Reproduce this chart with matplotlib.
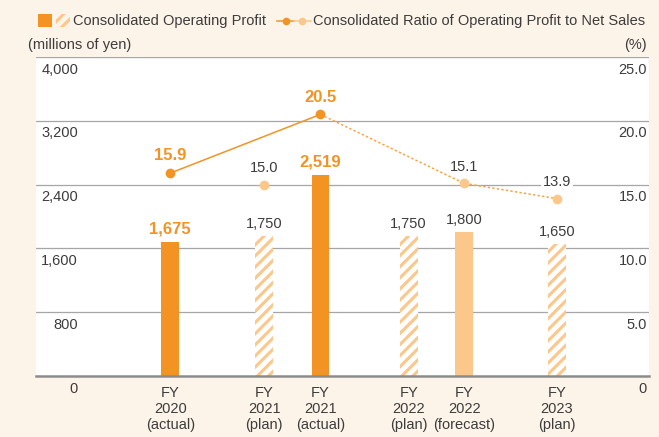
import numpy as np
import matplotlib
matplotlib.use("Agg")
import matplotlib.pyplot as plt
from matplotlib.patches import Rectangle
from matplotlib.lines import Line2D

# data
categories = ["FY\n2020\n(actual)", "FY\n2021\n(plan)", "FY\n2021\n(actual)",
              "FY\n2022\n(plan)", "FY\n2022\n(forecast)", "FY\n2023\n(plan)"]
kind = ["actual", "plan", "actual", "plan", "forecast", "plan"]
profit = [1675, 1750, 2519, 1750, 1800, 1650]
ratio = [15.9, 15.0, 20.5, np.nan, 15.1, 13.9]
left_ticks = [0, 800, 1600, 2400, 3200, 4000]
right_ticks = [0, 5.0, 10.0, 15.0, 20.0, 25.0]

# layout
xpos = np.array([0, 1.0, 1.6, 2.54, 3.13, 4.12])
DARK = "#f39323"
LIGHT = "#fcc78a"
CREAM = "#fdf4e9"
GRID = "#a6a6a6"
TXT = "#3c3c3c"

plt.rcParams["font.family"] = ["Liberation Sans", "DejaVu Sans"]
plt.rcParams["hatch.linewidth"] = 2.2
plt.rcParams["hatch.color"] = LIGHT

fig = plt.figure(figsize=(6.59, 4.37), dpi=100, facecolor=CREAM)
W, H = 659, 437
ax = fig.add_axes([36 / W, 61 / H, 613 / W, 319 / H])
ax.set_facecolor("white")
ax.set_xlim(-1.43, 5.1)
ax.set_ylim(0, 4000)
for s in ax.spines.values():
    s.set_visible(False)
ax.set_yticks([])
ax.set_xticks(xpos, categories, fontsize=10.5, color=TXT)
ax.tick_params(axis="x", length=0, pad=7)

for v in left_ticks[1:]:
    ax.axhline(v, color=GRID, lw=0.9, zorder=1)
ax.axhline(0, color="#8c8c8c", lw=1.8, zorder=4, clip_on=False)

# bars
for x, v, k in zip(xpos, profit, kind):
    if k == "actual":
        ax.bar(x, v, 0.19, color=DARK, zorder=3)
        ax.annotate(f"{v:,}", (x, v), xytext=(0, 4), textcoords="offset points",
                    ha="center", va="bottom", fontsize=12, fontweight="bold", color=DARK)
    elif k == "plan":
        ax.bar(x, v, 0.19, facecolor="white", edgecolor=LIGHT, lw=0, hatch="///", zorder=3)
        ax.annotate(f"{v:,}", (x, v), xytext=(0, 4), textcoords="offset points",
                    ha="center", va="bottom", fontsize=10.5, color=TXT)
    else:
        ax.bar(x, v, 0.19, color=LIGHT, zorder=3)
        ax.annotate(f"{v:,}", (x, v), xytext=(0, 4), textcoords="offset points",
                    ha="center", va="bottom", fontsize=10.5, color=TXT)

# ratio line on right axis
ax2 = ax.twinx()
ax2.set_ylim(0, 25)
ax2.set_yticks([])
for s in ax2.spines.values():
    s.set_visible(False)
r = np.array(ratio)
ax2.plot(xpos[[0, 2]], r[[0, 2]], color=DARK, lw=1.1, zorder=5)
ax2.plot(xpos[[2, 4, 5]], r[[2, 4, 5]], color="#f5a24a", lw=1.1, ls=(0, (1.5, 1.5)), zorder=5)
for i, k in enumerate(kind):
    if np.isnan(r[i]):
        continue
    c = DARK if k == "actual" else LIGHT
    ax2.plot(xpos[i], r[i], "o", ms=7, color=c, mec="none", zorder=6)
    if k == "actual":
        ax2.annotate(f"{r[i]:.1f}", (xpos[i], r[i]), xytext=(0, 7), textcoords="offset points",
                     ha="center", va="bottom", fontsize=12, fontweight="bold", color=DARK)
    else:
        bb = dict(facecolor="white", edgecolor="none", pad=1.5) if i == 5 else None
        ax2.annotate(f"{r[i]:.1f}", (xpos[i], r[i]), xytext=(0, 7), textcoords="offset points",
                     ha="center", va="bottom", fontsize=10.5, color=TXT, bbox=bb)

# axis tick labels inside the plot, below each gridline
for v in left_ticks:
    ax.annotate(f"{v:,}", xy=(78, v), xycoords=("figure pixels", "data"),
                xytext=(0, -4), textcoords="offset points",
                ha="right", va="top", fontsize=10.5, color=TXT)
for v in right_ticks:
    ax2.annotate("0" if v == 0 else f"{v:.1f}", xy=(647, v), xycoords=("figure pixels", "data"),
                 xytext=(0, -4), textcoords="offset points",
                 ha="right", va="top", fontsize=10.5, color=TXT)

fig.text(28 / W, 1 - 45 / H, "(millions of yen)", ha="left", va="center", fontsize=10.5, color=TXT)
fig.text(647 / W, 1 - 45 / H, "(%)", ha="right", va="center", fontsize=10.5, color=TXT)

# legend (drawn by hand to match the header)
ly = 1 - 20.5 / H
fig.add_artist(Rectangle((38 / W, 1 - 27 / H), 14 / W, 13 / H, transform=fig.transFigure,
                         facecolor=DARK, edgecolor="none"))
fig.add_artist(Rectangle((56 / W, 1 - 27 / H), 14 / W, 13 / H, transform=fig.transFigure,
                         facecolor=CREAM, edgecolor=LIGHT, lw=0, hatch="///"))
fig.text(73 / W, ly, "Consolidated Operating Profit", ha="left", va="center",
         fontsize=10.5, color=TXT)
fig.add_artist(Line2D([277 / W, 294 / W], [ly, ly], transform=fig.transFigure,
                      color=DARK, lw=1.1))
fig.add_artist(Line2D([294 / W, 311 / W], [ly, ly], transform=fig.transFigure,
                      color=LIGHT, lw=1.1))
fig.add_artist(Line2D([286 / W], [ly], transform=fig.transFigure, ls="none",
                      marker="o", ms=5.5, color=DARK, mec="none"))
fig.add_artist(Line2D([302 / W], [ly], transform=fig.transFigure, ls="none",
                      marker="o", ms=5.5, color=LIGHT, mec="none"))
fig.text(313 / W, ly, "Consolidated Ratio of Operating Profit to Net Sales",
         ha="left", va="center", fontsize=10.5, color=TXT)

fig.savefig("out.png", dpi=100, facecolor=CREAM)
